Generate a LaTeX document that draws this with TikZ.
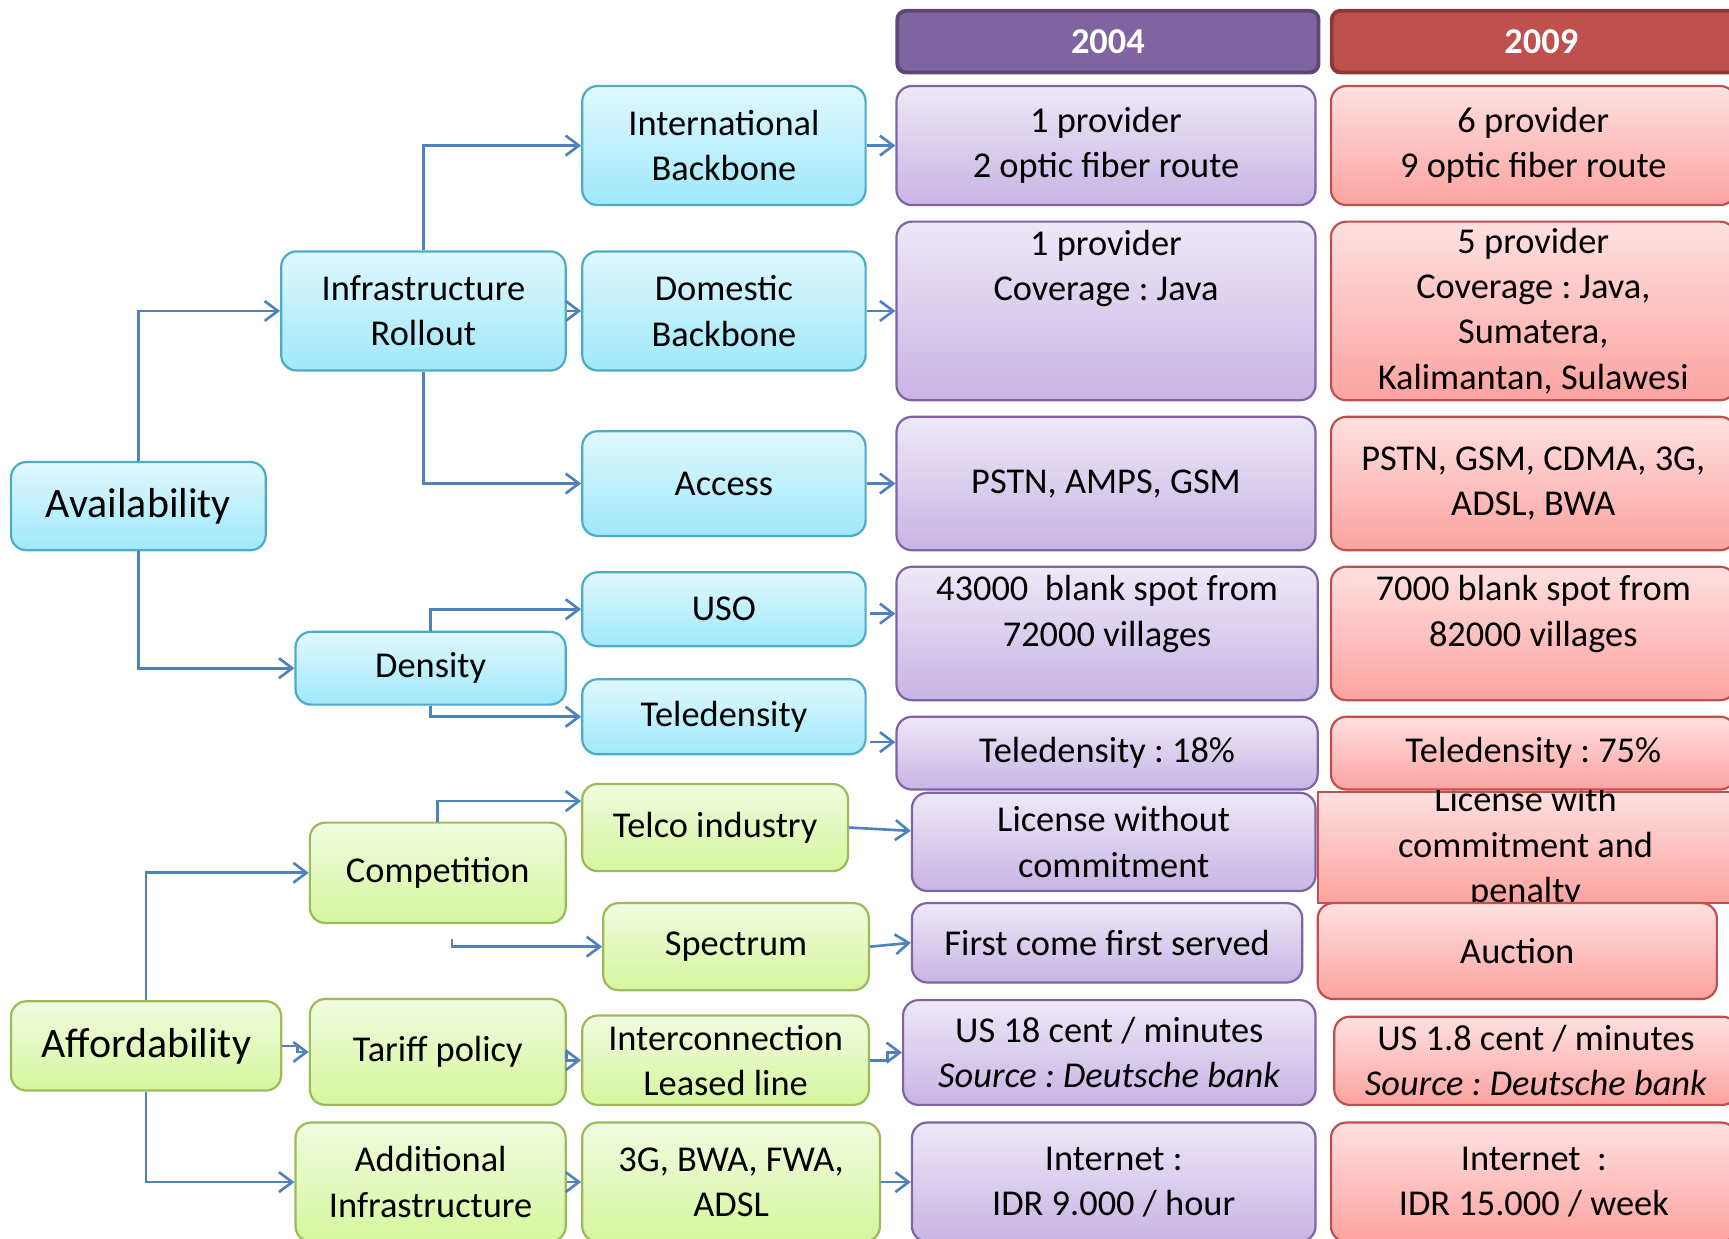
\documentclass[tikz,border=0pt]{standalone}
\usepackage{fontspec}
\setmainfont{Carlito}
\frenchspacing
\usetikzlibrary{arrows.meta,calc}

\definecolor{bluetop}{RGB}{224,248,253}
\definecolor{bluebot}{RGB}{160,232,251}
\definecolor{blueline}{RGB}{75,172,198}
\definecolor{greentop}{RGB}{241,251,224}
\definecolor{greenbot}{RGB}{214,246,158}
\definecolor{greenline}{RGB}{155,187,89}
\definecolor{purptop}{RGB}{238,232,247}
\definecolor{purpbot}{RGB}{199,180,228}
\definecolor{purpline}{RGB}{128,100,162}
\definecolor{redtop}{RGB}{254,224,224}
\definecolor{redbot}{RGB}{252,163,160}
\definecolor{redline}{RGB}{192,80,77}
\definecolor{linkblue}{RGB}{79,129,189}

\begin{document}
\begin{tikzpicture}[x=1pt,y=-1pt]
	\tikzset{>={Straight Barb[length=12pt,width=18pt]}}
	\tikzset{cellbase/.style={draw,line width=2pt,rounded corners=14pt,anchor=north west,
			align=center,inner sep=2pt,font=\fontsize{33}{41}\selectfont},
		bluebox/.style={cellbase,draw=blueline,top color=bluetop,bottom color=bluebot},
		greenbox/.style={cellbase,draw=greenline,top color=greentop,bottom color=greenbot},
		purplebox/.style={cellbase,draw=purpline,top color=purptop,bottom color=purpbot},
		redbox/.style={cellbase,draw=redline,top color=redtop,bottom color=redbot},
		yearbox/.style={draw,line width=3.5pt,rounded corners=8pt,anchor=north west,
			text=white,font=\bfseries\fontsize{33}{41}\selectfont},
		bigtext/.style={font=\fontsize{38}{46}\selectfont},
		link/.style={draw=linkblue,line width=2.4pt,->}}
	\useasboundingbox (0,0) rectangle (1568,1123);

	% year headers
	\node[yearbox,draw={rgb,255:red,92;green,71;blue,118},fill=purpline,minimum width=382pt,minimum height=56pt] (h2004) at (812,8) {2004};
	\node[yearbox,draw={rgb,255:red,140;green,56;blue,54},fill=redline,minimum width=380pt,minimum height=56pt] (h2009) at (1206,8) {2009};

	% availability branch
	\node[bluebox,bigtext,minimum width=231pt,minimum height=80pt] (avail) at (9,418) {Availability};
	\node[bluebox,minimum width=258pt,minimum height=108pt] (infra) at (254,227) {Infrastructure\\Rollout};
	\node[bluebox,minimum width=245pt,minimum height=66pt] (dens) at (267,572) {Density};
	\node[bluebox,minimum width=257pt,minimum height=108pt] (intl) at (527,77) {International\\Backbone};
	\node[bluebox,minimum width=257pt,minimum height=108pt] (dom) at (527,227) {Domestic\\Backbone};
	\node[bluebox,minimum width=257pt,minimum height=95pt] (acc) at (527,390) {Access};
	\node[bluebox,minimum width=257pt,minimum height=67pt] (uso) at (527,518) {USO};
	\node[bluebox,minimum width=257pt,minimum height=68pt] (tele) at (527,615) {Teledensity};

	% affordability branch
	\node[greenbox,bigtext,minimum width=245pt,minimum height=81pt] (aff) at (9,907) {Affordability};
	\node[greenbox,minimum width=232pt,minimum height=91pt] (comp) at (280,745) {Competition};
	\node[greenbox,minimum width=232pt,minimum height=96pt] (tariff) at (280,905) {Tariff policy};
	\node[greenbox,minimum width=245pt,minimum height=108pt] (addi) at (267,1017) {Additional\\Infrastructure};
	\node[greenbox,minimum width=241pt,minimum height=79pt] (telco) at (527,710) {Telco industry};
	\node[greenbox,minimum width=241pt,minimum height=79pt] (spec) at (546,818) {Spectrum};
	\node[greenbox,minimum width=260pt,minimum height=81pt] (inter) at (527,920) {Interconnection\\Leased line};
	\node[greenbox,minimum width=270pt,minimum height=108pt] (gen3) at (527,1017) {3G, BWA, FWA,\\ADSL};

	% 2004 column
	\node[purplebox,minimum width=380pt,minimum height=108pt] (pA) at (812,77) {1 provider\\2 optic fiber route};
	\node[purplebox,minimum width=380pt,minimum height=162pt] (pB) at (812,200) {1 provider\\Coverage : Java\\\mbox{}\\\mbox{}};
	\node[purplebox,minimum width=380pt,minimum height=121pt] (pC) at (812,377) {PSTN, AMPS, GSM};
	\node[purplebox,minimum width=382pt,minimum height=121pt] (pD) at (812,513) {43000~ blank spot from\\72000 villages\\\mbox{}};
	\node[purplebox,minimum width=382pt,minimum height=66pt] (pE) at (812,649) {Teledensity : 18\%};
	\node[purplebox,minimum width=366pt,minimum height=89pt] (pF) at (826,718) {License without\\commitment};
	\node[purplebox,minimum width=354pt,minimum height=72pt] (pG) at (826,818) {First come first served};
	\node[purplebox,minimum width=374pt,minimum height=95pt] (pH) at (818,906) {US 18 cent / minutes\\\textit{Source : Deutsche bank}};
	\node[purplebox,minimum width=366pt,minimum height=108pt] (pI) at (826,1017) {Internet :\\IDR 9.000 / hour};

	% 2009 column
	\node[redbox,minimum width=367pt,minimum height=108pt] (rA) at (1206,77) {6 provider\\9 optic fiber route};
	\node[redbox,minimum width=367pt,minimum height=162pt] (rB) at (1206,200) {5 provider\\Coverage : Java,\\Sumatera,\\Kalimantan, Sulawesi};
	\node[redbox,minimum width=367pt,minimum height=121pt] (rC) at (1206,377) {PSTN, GSM, CDMA, 3G,\\ADSL, BWA};
	\node[redbox,minimum width=367pt,minimum height=121pt] (rD) at (1206,513) {7000 blank spot from\\82000 villages\\\mbox{}};
	\node[redbox,minimum width=367pt,minimum height=66pt] (rE) at (1206,649) {Teledensity : 75\%};
	\node[redbox,rounded corners=0pt,minimum width=377pt,minimum height=101pt] (rF) at (1194,717) {};
	\begin{scope}
		\clip (rF.south west) rectangle (rF.north east);
		\node[align=center,font=\fontsize{33}{41}\selectfont] (rFtext) at (rF.center) {License with\\commitment and\\penalty};
	\end{scope}
	\node[redbox,minimum width=362pt,minimum height=87pt] (rG) at (1194,818) {Auction};
	\node[redbox,minimum width=366pt,minimum height=80pt] (rH) at (1209,921) {US 1.8 cent / minutes\\\textit{Source : Deutsche bank}};
	\node[redbox,minimum width=368pt,minimum height=108pt] (rI) at (1206,1017) {Internet~ :\\IDR 15.000 / week};

	% connectors
	\draw[link] (avail.north) |- (infra.west);
	\draw[link] (avail.south) |- (dens.west);
	\draw[link] (infra.north) |- (intl.west);
	\draw[link] (infra.east) -- (dom.west);
	\draw[link] (infra.south) |- (acc.west);
	\draw[link] (dens.north) |- (uso.west);
	\draw[link] (dens.south) |- (tele.west);
	\draw[link] (intl.east) -- (pA.west);
	\draw[link] (dom.east) -- (pB.west);
	\draw[link] (acc.east) -- (pC.west);
	\draw[link] ($(uso.east)+(3,4)$) -- ($(uso.east -| pD.west)+(0,4)$);
	\draw[link] ($(tele.east)+(3,23)$) -- ($(tele.east -| pE.west)+(0,23)$);

	\draw[link] (aff.north) |- (comp.west);
	\draw[link] (aff.east) -- ++(14,0) |- (tariff.west);
	\draw[link] (aff.south) |- (addi.west);
	\draw[link] (comp.north) |- ($(telco.west)+(0,-24)$);
	\coordinate (specin) at (410,852);
	\draw[link] (specin) |- (spec.west);
	\draw[link] (tariff.east) |- (inter.west);
	\draw[link] (addi.east) -- (gen3.west);
	\draw[link] (telco.east) -- ($(pF.west)+(0,-10)$);
	\draw[link] (spec.east) -- (pG.west);
	\draw[link] (inter.east) -- ++(16,0) |- (pH.west);
	\draw[link] (gen3.east) -- (pI.west);
\end{tikzpicture}
\end{document}
